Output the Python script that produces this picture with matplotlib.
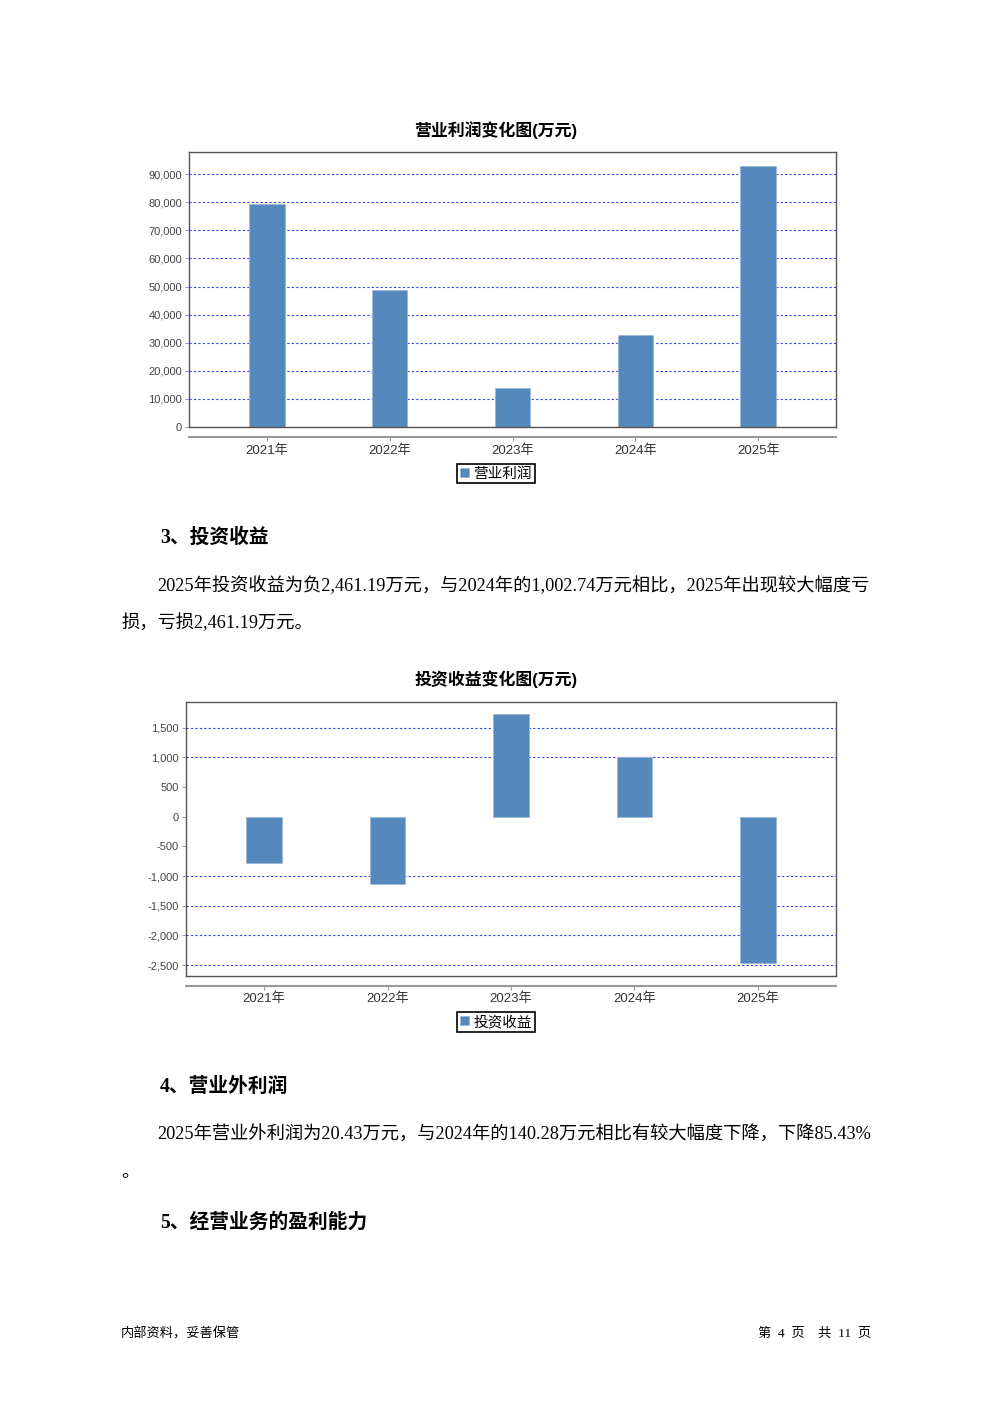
import matplotlib
matplotlib.use("Agg")
import matplotlib.pyplot as plt
from matplotlib.ticker import FuncFormatter

# === DATA ===
years = ["2021年", "2022年", "2023年", "2024年", "2025年"]
op_profit = [79400, 48600, 13900, 32700, 92900]            # 营业利润 (万元)
invest_income = [-774, -1128, 1729, 1002.74, -2461.19]     # 投资收益 (万元)

# === PAGE SETUP ===
W, H = 992, 1403
plt.rcParams["font.family"] = ["Liberation Sans", "Noto Sans CJK SC"]
fig = plt.figure(figsize=(W / 100, H / 100), dpi=100)
fig.patch.set_facecolor("white")

BAR_COLOR = "#5588BB"
GRID_COLOR = "#3344EE"
BODY = ["Liberation Serif", "Noto Sans CJK SC"]


def px(x, y):
    return x / W, 1 - y / H


def bar_chart(title, values, label, box, ylim, yticks, title_y, axis_y, legend_y, hide_grid=()):
    left, top, right, bottom = box
    ax = fig.add_axes([left / W, 1 - bottom / H, (right - left) / W, (bottom - top) / H])
    pos = range(len(values))
    bars = ax.bar(pos, values, width=0.29, color=BAR_COLOR,
                  edgecolor="#9DB8D8", linewidth=0.6, zorder=2)
    ax.set_xlim(-0.633, len(values) - 1 + 0.633)
    ax.set_ylim(*ylim)
    ax.set_yticks(yticks)
    ax.yaxis.set_major_formatter(FuncFormatter(lambda v, p: f"{v:,.0f}"))
    ax.set_xticks([])
    ax.tick_params(axis="y", length=3, width=0.6, color="#888888",
                   labelsize=8, labelcolor="#444444", pad=2)
    ax.set_axisbelow(True)
    ax.yaxis.grid(True, color=GRID_COLOR, linestyle=(0, (2, 2)), linewidth=0.8)
    for t, v in zip(ax.yaxis.get_major_ticks(), yticks):
        if v in hide_grid:
            t.gridline.set_visible(False)
    for s in ax.spines.values():
        s.set_color("#555555")
        s.set_linewidth(1.0)

    # separate category axis below the frame
    xa = fig.add_axes([left / W, 1 - axis_y / H, (right - left) / W, 0.0001])
    xa.set_xlim(ax.get_xlim())
    xa.patch.set_visible(False)
    for k in ("top", "left", "right"):
        xa.spines[k].set_visible(False)
    xa.spines["bottom"].set_color("#999999")
    xa.spines["bottom"].set_linewidth(1.5)
    xa.set_yticks([])
    xa.set_xticks(list(pos))
    xa.set_xticklabels(years)
    xa.tick_params(axis="x", length=3, color="#999999", labelsize=9.5,
                   labelcolor="#333333", pad=2)

    fig.text(*px(496, title_y), title, ha="center", va="center",
             fontsize=12.2, fontweight="bold")
    leg = ax.legend([bars], [label], loc="center",
                    bbox_to_anchor=px(496, legend_y), bbox_transform=fig.transFigure,
                    frameon=True, fancybox=False, edgecolor="black", framealpha=1,
                    handlelength=0.6, handleheight=0.6, handletextpad=0.3,
                    borderpad=0.2, borderaxespad=0, fontsize=10.5)
    leg.get_frame().set_linewidth(1.2)
    return ax


# === CHART 1 ===
bar_chart("营业利润变化图(万元)", op_profit, "营业利润",
          box=(189, 152, 836, 427), ylim=(0, 97900),
          yticks=list(range(0, 90001, 10000)),
          title_y=130, axis_y=437, legend_y=473.5)

# === CHART 2 ===
bar_chart("投资收益变化图(万元)", invest_income, "投资收益",
          box=(186, 701.7, 836, 976), ylim=(-2682, 1936),
          yticks=list(range(-2500, 1501, 500)),
          title_y=679, axis_y=985.7, legend_y=1022, hide_grid=(-500, 0, 500))

# === TEXT ===
def head(x, y, s):
    fig.text(*px(x, y), s, ha="left", va="center", fontsize=14.2,
             fontweight="bold", family=BODY)


def body(x, y, s, ha="left"):
    fig.text(*px(x, y), s, ha=ha, va="center", fontsize=13.15, family=BODY)


head(160, 538, "3、投资收益")
body(157, 586, "2025年投资收益为负2,461.19万元，与2024年的1,002.74万元相比，2025年出现较大幅度亏")
body(121, 623, "损，亏损2,461.19万元。")
head(160, 1087, "4、营业外利润")
body(157, 1135, "2025年营业外利润为20.43万元，与2024年的140.28万元相比有较大幅度下降，下降85.43%")
body(121, 1172, "。")
head(160, 1223, "5、经营业务的盈利能力")

fig.text(*px(121, 1334), "内部资料，妥善保管", ha="left", va="center", fontsize=9.5, family=BODY)
fig.text(*px(871, 1334), "第  4  页    共  11  页", ha="right", va="center", fontsize=9.5, family=BODY)

fig.savefig("out.png", dpi=100)
